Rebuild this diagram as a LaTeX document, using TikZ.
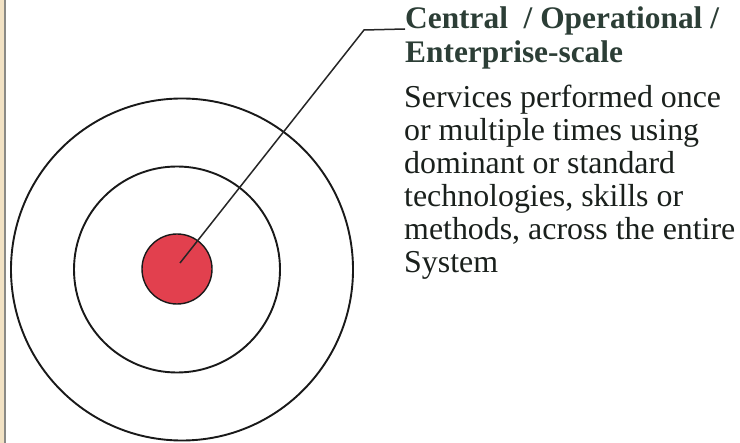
\documentclass[tikz,border=0pt]{standalone}
\usepackage{fontspec}
\setmainfont{Liberation Serif}
\definecolor{strip}{HTML}{F2E2C4}
\definecolor{stripline}{HTML}{8A8A86}
\definecolor{core}{HTML}{E2404E}
\definecolor{headcol}{HTML}{2C3E36}
\definecolor{bodycol}{HTML}{1A201C}
\tikzset{
  ring/.style={circle, draw=black!90, line width=1.9bp, inner sep=0pt},
  headtxt/.style={anchor=base west, inner sep=0pt, text=headcol, font=\fontsize{31.5}{34}\selectfont\bfseries},
  bodytxt/.style={anchor=base west, inner sep=0pt, text=bodycol, font=\fontsize{32}{33}\selectfont},
  leader/.style={draw=black!85, line width=1.5bp}
}
\begin{document}
\begin{tikzpicture}[x=1bp,y=-1bp]
\useasboundingbox (0,0) rectangle (740,443);
\fill[white] (0,0) rectangle (740,443);
\fill[strip] (0,0) rectangle (4.5,443);
\draw[stripline, line width=1.6bp] (5.2,0) -- (5.2,443);
\node[ring, minimum size=342bp] (outer) at (182,269.5) {};
\node[ring, minimum size=206bp] (middle) at (177,269.5) {};
\node[ring, fill=core, line width=1.4bp, minimum size=70bp] (bull) at (177,269) {};
\coordinate (hit) at (180,263);
\coordinate (elbow) at (364,30);
\node[headtxt] (h1) at (405,29) {Central\ \ / Operational /};
\node[headtxt] (h2) at (405,63) {Enterprise-scale};
\draw[leader] (hit) -- (elbow) -- (h1.base west);
\node[bodytxt] (b1) at (404,108) {Services performed once};
\node[bodytxt] (b2) at (404,141) {or multiple times using};
\node[bodytxt] (b3) at (404,174) {dominant or standard};
\node[bodytxt] (b4) at (404,207) {technologies, skills or};
\node[bodytxt] (b5) at (404,240) {methods, across the entire};
\node[bodytxt] (b6) at (404,273) {System};
\end{tikzpicture}
\end{document}
